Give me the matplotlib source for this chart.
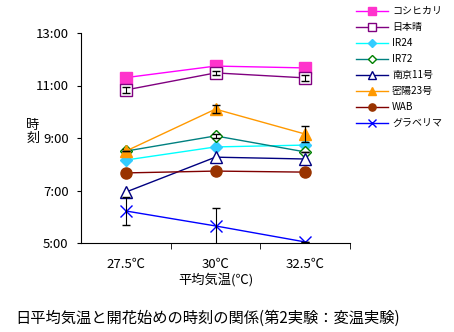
import matplotlib
matplotlib.use("Agg")
import matplotlib.pyplot as plt

plt.rcParams['font.family'] = ['Noto Sans CJK JP', 'DejaVu Sans']

temps = ["27.5℃", "30℃", "32.5℃"]
varieties = ["コシヒカリ", "日本晴", "IR24", "IR72", "南京11号", "密陽23号", "WAB", "グラベリマ"]
koshihikari = [11.30, 11.74, 11.67]
nipponbare = [10.83, 11.48, 11.29]
ir24 = [8.16, 8.66, 8.73]
ir72 = [8.50, 9.08, 8.47]
nankin11 = [6.94, 8.27, 8.20]
mitsuyo23 = [8.50, 10.10, 9.15]
wab = [7.67, 7.74, 7.70]
glaberrima = [6.22, 5.65, 5.04]
err_nipponbare = [0.12, 0.08, 0.12]
err_mitsuyo23 = [0.0, 0.15, 0.30]
err_glaberrima = [0.55, 0.70, 0.0]
err_ir72 = [0.08, 0.08, 0.0]

series = [koshihikari, nipponbare, ir24, ir72, nankin11, mitsuyo23, wab, glaberrima]
errs = [None, err_nipponbare, None, err_ir72, None, err_mitsuyo23, None, err_glaberrima]
line_cols = ["#ff00ff", "#800080", "#00ffff", "#008080", "#000080", "#ff9900", "#800000", "#0000ff"]
markers = ["s", "s", "D", "D", "^", "^", "o", "x"]
faces = ["#ff33cc", "white", "#33ccff", "white", "white", "#ff9900", "#993300", "none"]
edges = ["#ff33cc", "#800080", "#33ccff", "#008000", "#000080", "#ff9900", "#993300", "#0000ff"]
msizes = [8, 8, 6, 6, 9, 8, 8, 8]

fig = plt.figure(figsize=(4.54, 3.32), dpi=100)
ax = fig.add_axes([81/454, 1-243/332, (350-81)/454, (243-33)/332])
x = [1, 2, 3]
for s, e, lc, m, fc, ec, ms, name in zip(series, errs, line_cols, markers, faces, edges, msizes, varieties):
    ax.plot(x, s, color=lc, lw=1, marker=m, mfc=fc, mec=ec, ms=ms, mew=1, label=name)
    if e is not None:
        ax.errorbar(x, s, yerr=e, fmt="none", ecolor="black", elinewidth=0.8, capsize=3)

ax.set_xlim(0.5, 3.5)
ax.set_ylim(5, 13)
ax.set_yticks([5, 7, 9, 11, 13])
ax.set_yticklabels(["5:00", "7:00", "9:00", "11:00", "13:00"], fontsize=9.5)
ax.set_xticks(x)
ax.set_xticklabels(temps, fontsize=9.5)
ax.set_xticks([1.5, 2.5, 3.5], minor=True)
ax.tick_params(axis="x", which="major", length=0, pad=11)
ax.tick_params(axis="x", which="minor", length=4, direction="out")
ax.tick_params(axis="y", length=3, direction="out", pad=6)
for sp in ["top", "right"]:
    ax.spines[sp].set_visible(False)
ax.set_xlabel("平均気温(℃)", fontsize=9.5, labelpad=1)
fig.text(33/454, 1-132/332, "時\n刻", fontsize=9.5, ha="center", va="center", linespacing=1.0)

ax.legend(loc="upper left", bbox_to_anchor=(350/454, 1.0), bbox_transform=fig.transFigure,
          frameon=False, fontsize=7.2, handlelength=3.2, labelspacing=0.6, handletextpad=0.4,
          borderaxespad=0.2, markerscale=0.65)

fig.text(15/454, 1-318/332, "日平均気温と開花始めの時刻の関係(第2実験：変温実験)", fontsize=11, va="center")
fig.savefig("out.png", dpi=100)
